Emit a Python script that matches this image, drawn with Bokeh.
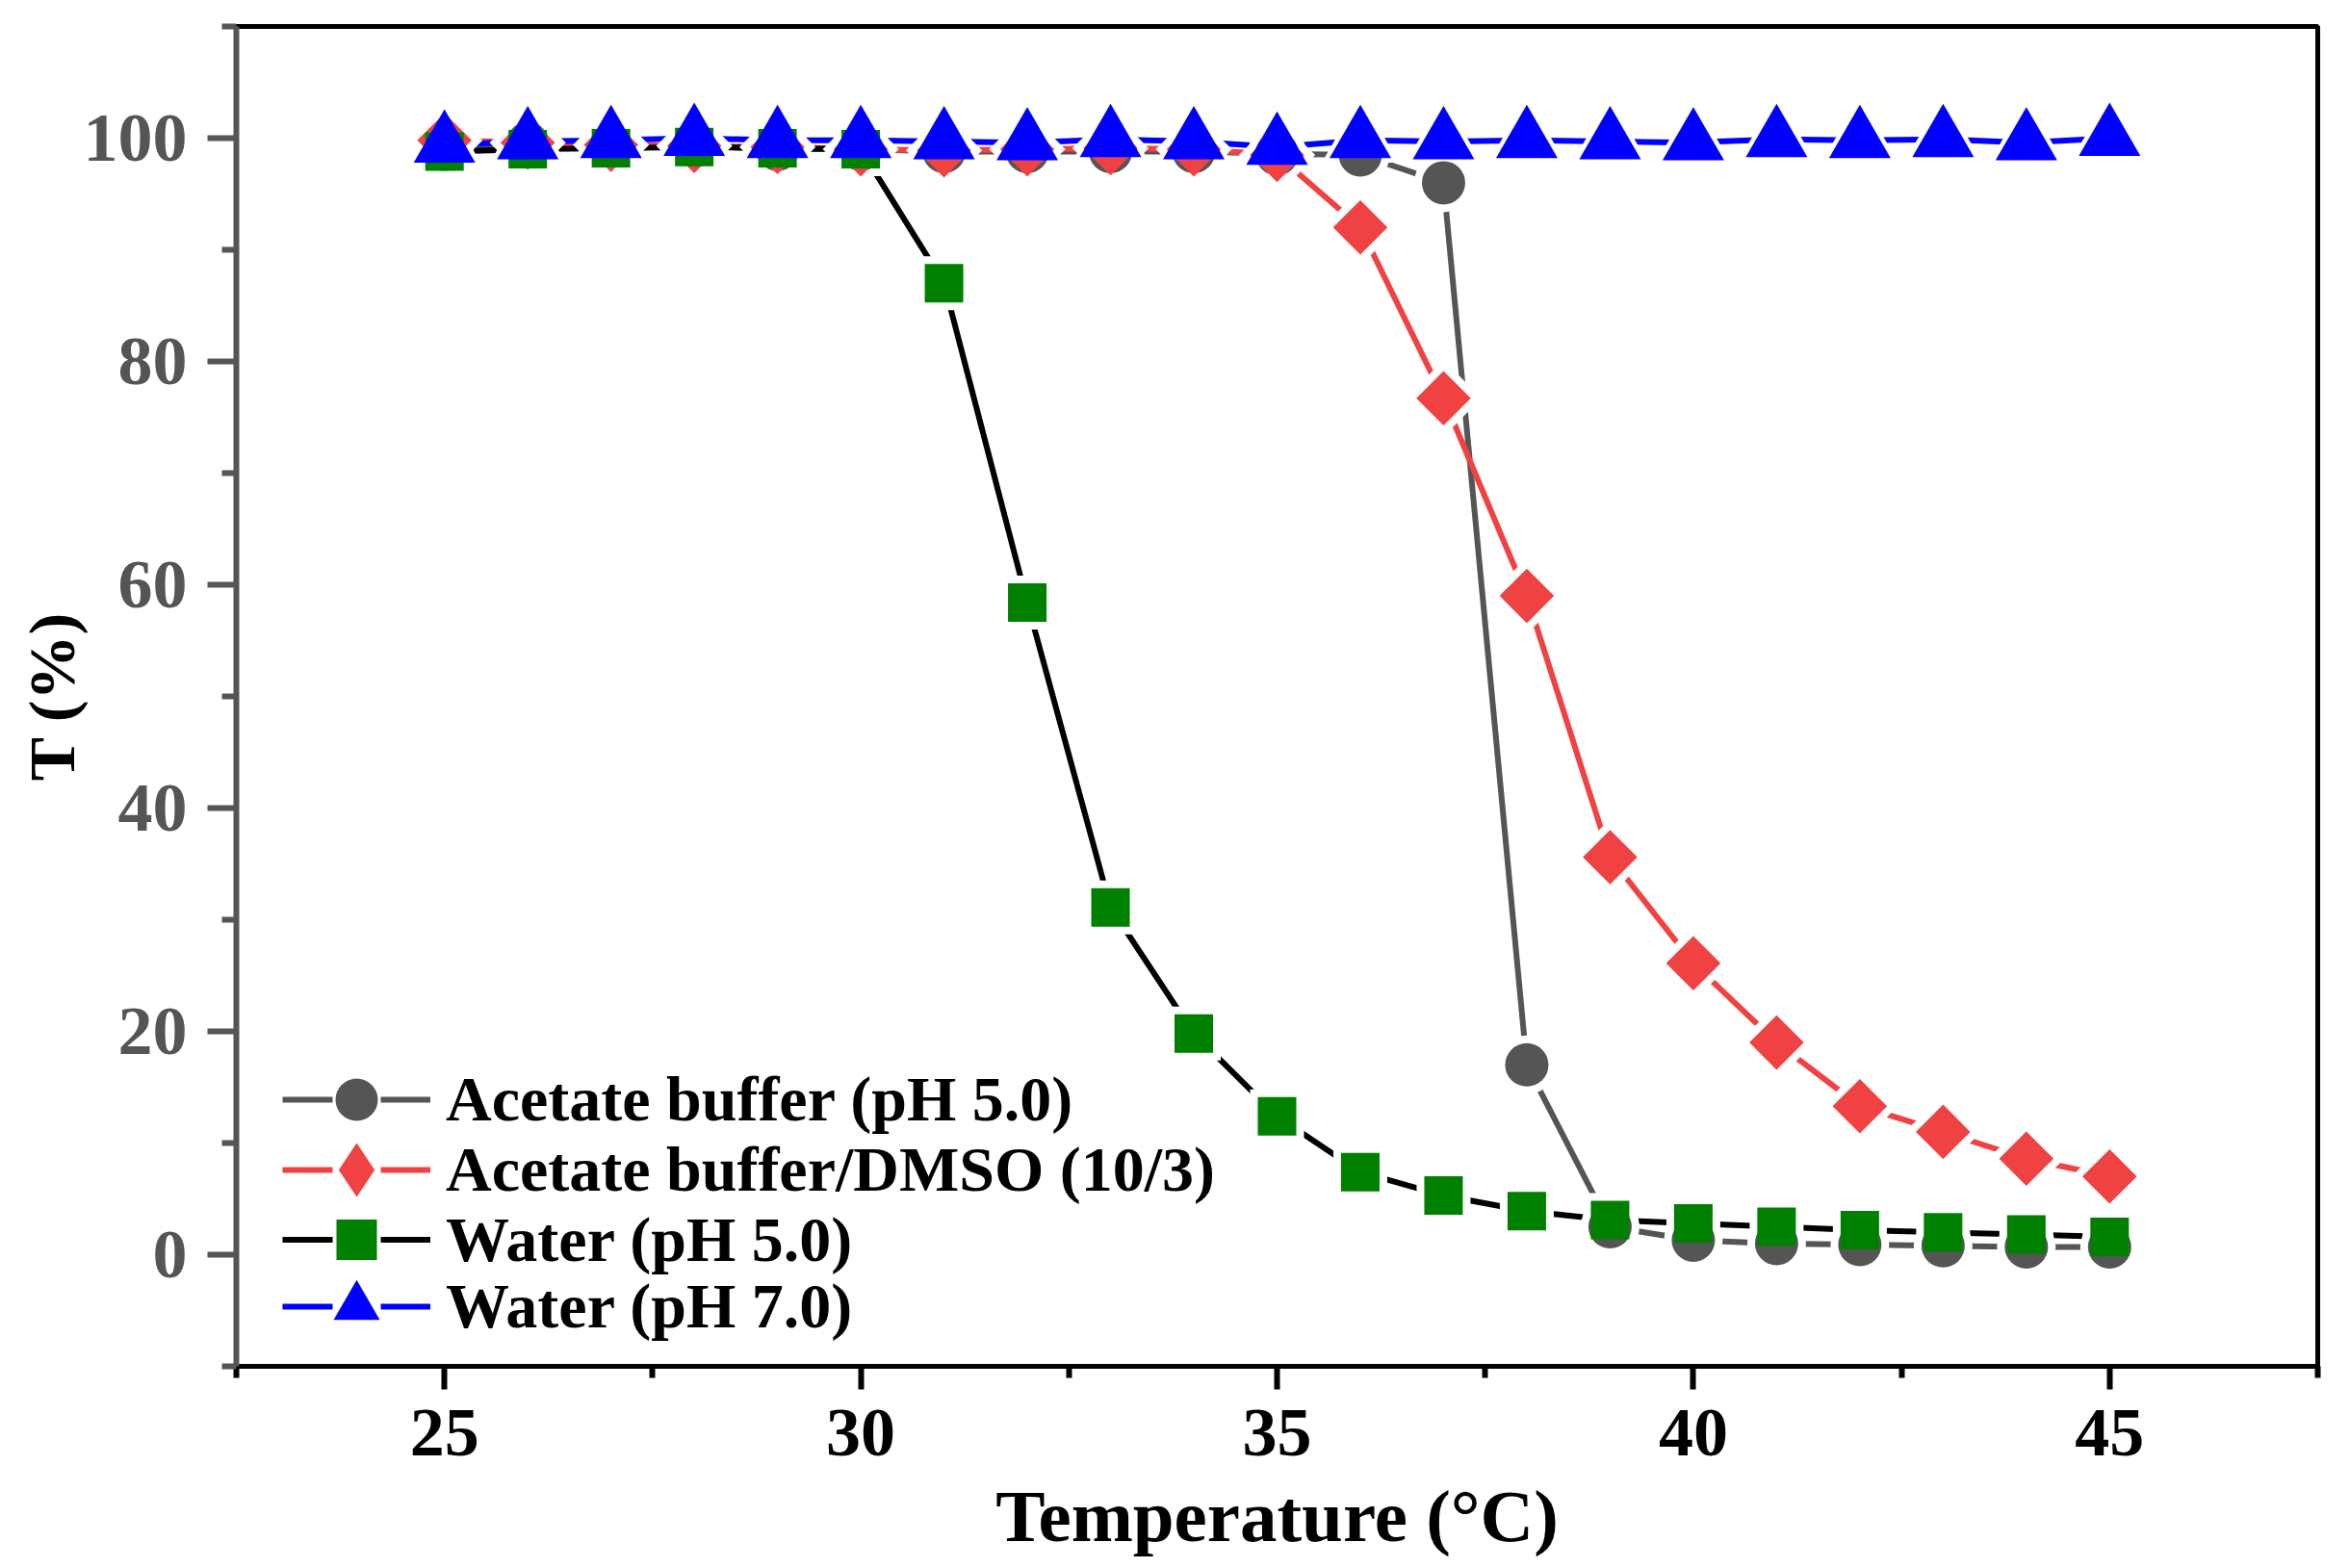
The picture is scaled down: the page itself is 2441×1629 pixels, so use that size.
import math
from bokeh.plotting import figure
from bokeh.models import FixedTicker, Legend, LegendItem, ColumnDataSource
from bokeh.embed import file_html
from bokeh.resources import INLINE

temps = list(range(25, 46))
acetate = [99.0, 99.5, 99.3, 99.3, 99.0, 99.0, 98.8, 98.8, 98.8, 98.8, 98.6,
           98.5, 96.0, 17.0, 2.5, 1.3, 1.0, 0.9, 0.8, 0.7, 0.7]
dmso = [99.8, 99.6, 99.4, 99.3, 99.2, 99.0, 98.9, 99.0, 99.1, 99.0, 98.5,
        92.0, 76.7, 59.0, 35.6, 26.1, 19.0, 13.3, 11.0, 8.6, 7.0]
water5 = [98.8, 99.0, 99.1, 99.2, 99.1, 99.0, 87.0, 58.4, 31.1, 19.8, 12.4,
          7.4, 5.3, 3.9, 3.1, 2.8, 2.5, 2.2, 2.0, 1.8, 1.6]
water7 = [99.4, 99.7, 99.8, 100.0, 99.8, 99.8, 99.7, 99.6, 99.9, 99.7, 99.2,
          99.8, 99.7, 99.8, 99.7, 99.6, 99.9, 99.8, 99.9, 99.6, 100.0]

series_names = ["Acetate buffer (pH 5.0)", "Acetate buffer/DMSO (10/3)",
                "Water (pH 5.0)", "Water (pH 7.0)"]
series_values = [acetate, dmso, water5, water7]
x_major = [25, 30, 35, 40, 45]
x_minor = [22.5, 27.5, 32.5, 37.5, 42.5, 47.5]
y_major = [0, 20, 40, 60, 80, 100]
y_minor = [-10, 10, 30, 50, 70, 90, 110]

line_colors = ["#555555", "#F04242", "#000000", "#0000FF"]
marker_colors = ["#555555", "#F04242", "#008000", "#0000FF"]
markers = ["circle", "square", "square", "triangle"]
legend_markers = ["circle", "diamond", "square", "triangle"]
legend_glyph_heights = [110, 140, 105, 120]
angles = [0, math.pi / 4, 0, 0]
sizes = [45, 40, 40, 64]

FONT = "Liberation Serif"

p = figure(frame_width=2162, frame_height=1392, output_backend="svg",
           toolbar_location=None, x_range=(22.5, 47.5), y_range=(-10, 110),
           min_border_left=245, min_border_right=25, min_border_top=27,
           min_border_bottom=190)
p.grid.visible = False
p.background_fill_color = "white"
p.border_fill_color = "white"
p.outline_line_color = "black"
p.outline_line_width = 5

sources = [ColumnDataSource(dict(x=temps, y=vals)) for vals in series_values]

for src, lc in zip(sources, line_colors):
    p.line("x", "y", source=src, line_color=lc, line_width=6)
for src, m, a, s in zip(sources, markers, angles, sizes):
    p.scatter("x", "y", source=src, marker=m, angle=a, size=s + 16,
              fill_color="white", line_color=None)
for src, m, a, s, mc in zip(sources, markers, angles, sizes, marker_colors):
    p.scatter("x", "y", source=src, marker=m, angle=a, size=s,
              fill_color=mc, line_color=None)

# legend-only renderers (hidden in the plot, drawn in the legend)
row_bottoms = [222, 149, 77, 7]
for i, (src, name) in enumerate(zip(sources, series_names)):
    gh = legend_glyph_heights[i]
    lr = p.line("x", "y", source=src, line_color=line_colors[i], line_width=6,
                line_dash="52 50", visible=False)
    mr = p.scatter("x", "y", source=src, marker=legend_markers[i], size=40,
                   fill_color=marker_colors[i], line_color=None, visible=False)
    lg = Legend(items=[LegendItem(label=name, renderers=[lr, mr])],
                location=(48, row_bottoms[i] + (110 - gh) // 2))
    lg.border_line_color = None
    lg.background_fill_alpha = 0
    lg.padding = 0
    lg.margin = 0
    lg.spacing = 0
    lg.glyph_width = 154
    lg.glyph_height = gh
    lg.label_height = gh
    lg.label_standoff = 16
    lg.label_text_font = FONT
    lg.label_text_font_style = "bold"
    lg.label_text_font_size = "66px"
    lg.label_text_color = "black"
    p.add_layout(lg)

# axes
xa = p.xaxis[0]
xa.ticker = FixedTicker(ticks=x_major, minor_ticks=x_minor)
xa.axis_line_color = "black"
xa.axis_line_width = 5
xa.major_tick_line_color = "black"
xa.major_tick_line_width = 6
xa.minor_tick_line_color = "black"
xa.minor_tick_line_width = 6
xa.major_tick_out = 24
xa.major_tick_in = 0
xa.minor_tick_out = 12
xa.minor_tick_in = 0
xa.major_label_text_font = FONT
xa.major_label_text_font_style = "bold"
xa.major_label_text_font_size = "72px"
xa.major_label_text_color = "black"
xa.major_label_standoff = 21
xa.axis_label = "Temperature (°C)"
xa.axis_label_text_font = FONT
xa.axis_label_text_font_style = "bold"
xa.axis_label_text_font_size = "77px"
xa.axis_label_text_color = "black"
xa.axis_label_standoff = 17

ya = p.yaxis[0]
ya.ticker = FixedTicker(ticks=y_major, minor_ticks=y_minor)
ya.axis_line_color = "#555555"
ya.axis_line_width = 6
ya.major_tick_line_color = "#555555"
ya.major_tick_line_width = 6
ya.minor_tick_line_color = "#555555"
ya.minor_tick_line_width = 6
ya.major_tick_out = 30
ya.major_tick_in = 0
ya.minor_tick_out = 15
ya.minor_tick_in = 0
ya.major_label_text_font = FONT
ya.major_label_text_font_style = "bold"
ya.major_label_text_font_size = "72px"
ya.major_label_text_color = "#555555"
ya.major_label_standoff = 21
ya.axis_label = "T (%)"
ya.axis_label_text_font = FONT
ya.axis_label_text_font_style = "bold"
ya.axis_label_text_font_size = "68px"
ya.axis_label_text_color = "black"
ya.axis_label_standoff = -8

open("out.html", "w").write(file_html(p, INLINE))
